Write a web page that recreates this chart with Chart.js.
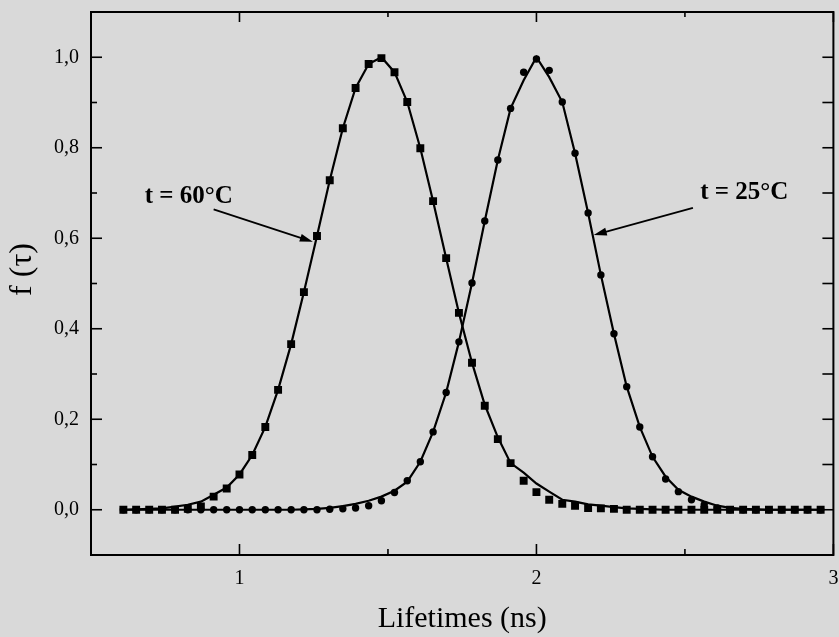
<!DOCTYPE html>
<html><head><meta charset="utf-8">
<script src="https://cdn.jsdelivr.net/npm/chart.js@4/dist/chart.umd.min.js"></script>
<style>html,body{margin:0;padding:0;background:#d9d9d9;overflow:hidden}</style>
</head><body>
<canvas id="c" width="839" height="637"></canvas>
<script>
// ---- data ----
const lifetimes = [0.609,0.652,0.696,0.739,0.783,0.826,0.870,0.913,0.957,1.000,
  1.043,1.087,1.130,1.174,1.217,1.261,1.304,1.348,1.391,1.435,
  1.478,1.522,1.565,1.609,1.652,1.696,1.739,1.783,1.826,1.870,
  1.913,1.957,2.000,2.043,2.087,2.130,2.174,2.217,2.261,2.304,
  2.348,2.391,2.435,2.478,2.522,2.565,2.609,2.652,2.696,2.739,
  2.783,2.826,2.870,2.913,2.957];
const f60 = [0,0,0,0,0,0.002,0.007,0.029,0.047,0.078,
  0.121,0.183,0.265,0.366,0.481,0.605,0.728,0.843,0.932,0.985,
  0.998,0.967,0.901,0.799,0.682,0.556,0.435,0.325,0.230,0.156,
  0.103,0.064,0.039,0.022,0.013,0.009,0.004,0.003,0.002,0,
  0,0,0,0,0,0,0,0,0,0,
  0,0,0,0,0];
const f25 = [0,0,0,0,0,0,0,0,0,0,
  0,0,0,0,0,0,0.001,0.002,0.004,0.009,
  0.020,0.038,0.064,0.106,0.172,0.259,0.371,0.501,0.638,0.773,
  0.887,0.967,0.996,0.971,0.901,0.788,0.656,0.519,0.389,0.272,
  0.183,0.117,0.068,0.040,0.022,0.011,0.004,0,0,0,
  0,0,0,0,0];
const fit60 = [0,0.001,0.002,0.003,0.007,0.011,0.018,0.033,0.049,0.078,
  0.121,0.183,0.265,0.366,0.481,0.605,0.728,0.843,0.932,0.985,
  1.000,0.967,0.901,0.799,0.682,0.556,0.435,0.325,0.232,0.160,
  0.103,0.082,0.058,0.040,0.022,0.018,0.012,0.009,0.006,0.003,
  0.002,0.001,0,0,0,0,0,0,0,0,
  0,0,0,0,0];
const fit25 = [0,0,0,0,0,0,0,0,0,0,
  0,0,0,0,0.001,0.002,0.004,0.008,0.013,0.020,
  0.029,0.042,0.062,0.106,0.172,0.259,0.371,0.501,0.638,0.773,
  0.887,0.949,1.000,0.956,0.901,0.788,0.656,0.519,0.389,0.272,
  0.183,0.117,0.073,0.044,0.029,0.018,0.009,0.004,0.002,0.001,
  0,0,0,0,0];
const seriesNames = ['t = 60°C', 't = 25°C'];
const xTickLabels = ['1', '2', '3'];
const yTickLabels = ['0,0', '0,2', '0,4', '0,6', '0,8', '1,0'];
const xTitle = 'Lifetimes (ns)';
const yTitle = 'f (τ)';

// ---- chart ----
const SERIF = "'Liberation Serif', 'Times New Roman', serif";
const pts = (ys) => lifetimes.map((x, i) => ({x: x, y: ys[i]}));

const notes = [
  {text: seriesNames[0], tx: 0.829, ty: 0.693, fx: 0.913, fy: 0.664, hx: 1.247, hy: 0.592},
  {text: seriesNames[1], tx: 2.700, ty: 0.700, fx: 2.527, fy: 0.667, hx: 2.193, hy: 0.607}
];

const framePlugin = {
  id: 'frame',
  beforeDraw(chart) {
    const c = chart.ctx;
    c.save(); c.fillStyle = '#d9d9d9'; c.fillRect(0, 0, chart.width, chart.height); c.restore();
  },
  afterDraw(chart) {
    const c = chart.ctx, a = chart.chartArea, xs = chart.scales.x, ys = chart.scales.y;
    c.save();
    c.strokeStyle = '#000';
    const seg = (x1, y1, x2, y2) => { c.beginPath(); c.moveTo(x1, y1); c.lineTo(x2, y2); c.stroke(); };
    c.lineWidth = 1.6;
    xs.ticks.forEach(t => {
      const px = xs.getPixelForValue(t.value);
      const major = Math.abs(t.value - Math.round(t.value)) < 1e-6;
      seg(px, a.bottom, px, a.bottom - (major ? 11 : 6));
      seg(px, a.top, px, a.top + (major ? 10 : 5));
    });
    ys.ticks.forEach(t => {
      const py = ys.getPixelForValue(t.value);
      const r = Math.round(t.value * 10);
      const major = r % 2 === 0;
      seg(a.left, py, a.left + (major ? 11 : 6), py);
      seg(a.right, py, a.right - 11, py);
    });
    c.lineWidth = 2;
    c.strokeRect(a.left, a.top, a.right - a.left, a.bottom - a.top);
    // y axis title (placed slightly above the axis centre, as in the reference)
    c.fillStyle = '#000';
    c.save();
    c.translate(23, (a.top + a.bottom) / 2 - 14);
    c.rotate(-Math.PI / 2);
    c.font = '32px ' + SERIF;
    c.textAlign = 'center'; c.textBaseline = 'middle';
    c.fillText(yTitle, 0, 0);
    c.restore();
    // annotations
    c.font = 'bold 25px ' + SERIF;
    c.textAlign = 'center'; c.textBaseline = 'middle';
    notes.forEach(n => {
      c.fillText(n.text, xs.getPixelForValue(n.tx), ys.getPixelForValue(n.ty));
      const x1 = xs.getPixelForValue(n.fx), y1 = ys.getPixelForValue(n.fy);
      const x2 = xs.getPixelForValue(n.hx), y2 = ys.getPixelForValue(n.hy);
      const ang = Math.atan2(y2 - y1, x2 - x1);
      const L = 13, W = 4;
      c.lineWidth = 1.8;
      seg(x1, y1, x2 - Math.cos(ang) * L * 0.8, y2 - Math.sin(ang) * L * 0.8);
      c.beginPath();
      c.moveTo(x2, y2);
      c.lineTo(x2 - Math.cos(ang) * L - Math.sin(ang) * W, y2 - Math.sin(ang) * L + Math.cos(ang) * W);
      c.lineTo(x2 - Math.cos(ang) * L + Math.sin(ang) * W, y2 - Math.sin(ang) * L - Math.cos(ang) * W);
      c.closePath(); c.fill();
    });
    c.restore();
  }
};

new Chart(document.getElementById('c'), {
  type: 'scatter',
  data: {
    datasets: [
      {label: seriesNames[0] + ' fit', data: pts(fit60), showLine: true, pointRadius: 0,
       borderColor: '#000', borderWidth: 2.2, tension: 0, order: 2},
      {label: seriesNames[1] + ' fit', data: pts(fit25), showLine: true, pointRadius: 0,
       borderColor: '#000', borderWidth: 2.2, tension: 0, order: 2},
      {label: seriesNames[0], data: pts(f60), showLine: false, pointStyle: 'rect', pointRadius: 5.6,
       backgroundColor: '#000', borderColor: '#000', borderWidth: 0, order: 1},
      {label: seriesNames[1], data: pts(f25), showLine: false, pointStyle: 'circle', pointRadius: 3.7,
       backgroundColor: '#000', borderColor: '#000', borderWidth: 0, order: 1}
    ]
  },
  options: {
    responsive: false, animation: false, devicePixelRatio: 1,
    layout: {padding: {top: 12, right: 1, left: 0, bottom: 0}},
    plugins: {legend: {display: false}, tooltip: {enabled: false}},
    scales: {
      x: {
        type: 'linear', min: 0.5, max: 3,
        grid: {display: false, drawTicks: false}, border: {display: false},
        ticks: {stepSize: 0.5, autoSkip: false, maxRotation: 0, padding: 12, color: '#000',
          font: {family: SERIF, size: 20},
          callback: v => (Math.abs(v - Math.round(v)) < 1e-6 && v >= 1) ? xTickLabels[Math.round(v) - 1] : ''},
        title: {display: true, text: xTitle, color: '#000', font: {family: SERIF, size: 30},
          padding: {top: 4, bottom: 0}},
        afterFit: s => { s.height = 82; s.paddingLeft = 0; s.paddingRight = 0; }
      },
      y: {
        type: 'linear', min: -0.1, max: 1.1,
        grid: {display: false, drawTicks: false}, border: {display: false},
        ticks: {stepSize: 0.1, autoSkip: false, padding: 12, color: '#000',
          font: {family: SERIF, size: 20},
          callback: v => { const r = Math.round(v * 10); return (r >= 0 && r <= 10 && r % 2 === 0) ? yTickLabels[r / 2] : ''; }},
        title: {display: false, text: yTitle},
        afterFit: s => { s.width = 91; s.paddingTop = 0; s.paddingBottom = 0; }
      }
    }
  },
  plugins: [framePlugin]
});
</script>
</body></html>
